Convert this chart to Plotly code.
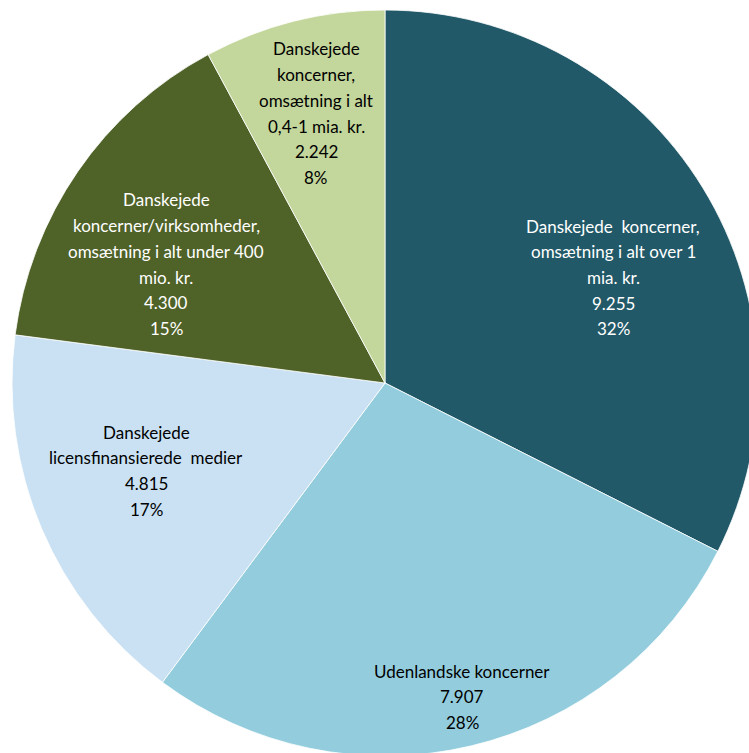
import plotly.graph_objects as go

# Slices, clockwise from 12 o'clock
categories = [
    "Danskejede koncerner, omsætning i alt over 1 mia. kr.",
    "Udenlandske koncerner",
    "Danskejede licensfinansierede medier",
    "Danskejede koncerner/virksomheder, omsætning i alt under 400 mio. kr.",
    "Danskejede koncerner, omsætning i alt 0,4-1 mia. kr.",
]
values = [9255, 7907, 4815, 4300, 2242]
colors = ["#215968", "#93CDDD", "#C9E1F3", "#4F6228", "#C3D69B"]
text_colors = ["white", "black", "black", "white", "black"]

# Wrapped label lines drawn inside each slice
label_lines = [
    ["Danskejede  koncerner,", "omsætning i alt over 1", "mia. kr."],
    ["Udenlandske koncerner"],
    ["Danskejede", "licensfinansierede  medier"],
    ["Danskejede", "koncerner/virksomheder,", "omsætning i alt under 400", "mio. kr."],
    ["Danskejede", "koncerner,", "omsætning i alt", "0,4-1 mia. kr."],
]
# Centre x and first-line y of each label block (pixels from top-left)
label_anchor = [(613, 226), (462, 671), (146, 432), (166, 200), (316, 49)]
LINE_H = 25.7

W, H = 770, 770
CX, CY, R = 385, 383, 373

total = sum(values)

def thousands(v):
    return f"{v:,}".replace(",", ".")

fig = go.Figure(
    go.Pie(
        labels=categories,
        values=values,
        sort=False,
        direction="clockwise",
        rotation=0,
        marker=dict(colors=colors, line=dict(color="white", width=0.8)),
        textinfo="none",
        hoverinfo="label+value+percent",
        showlegend=False,
        domain=dict(x=[(CX - R) / W, (CX + R) / W], y=[1 - (CY + R) / H, 1 - (CY - R) / H]),
    )
)

annotations = []
for lines, (ax, ay), v, tc in zip(label_lines, label_anchor, values, text_colors):
    all_lines = lines + [thousands(v), f"{round(v / total * 100)}%"]
    for i, line in enumerate(all_lines):
        y = ay + i * LINE_H
        annotations.append(
            dict(
                text=line,
                x=ax / W,
                y=1 - y / H,
                xref="paper",
                yref="paper",
                xanchor="center",
                yanchor="middle",
                showarrow=False,
                font=dict(family="Lato, Noto Sans, sans-serif", size=17, color=tc),
            )
        )

fig.update_layout(
    width=W,
    height=H,
    margin=dict(l=0, r=0, t=0, b=0),
    paper_bgcolor="white",
    plot_bgcolor="white",
    annotations=annotations,
)

fig.write_html(
    "out.html",
    post_script="document.body.style.margin='0';document.body.style.overflow='hidden';",
)
